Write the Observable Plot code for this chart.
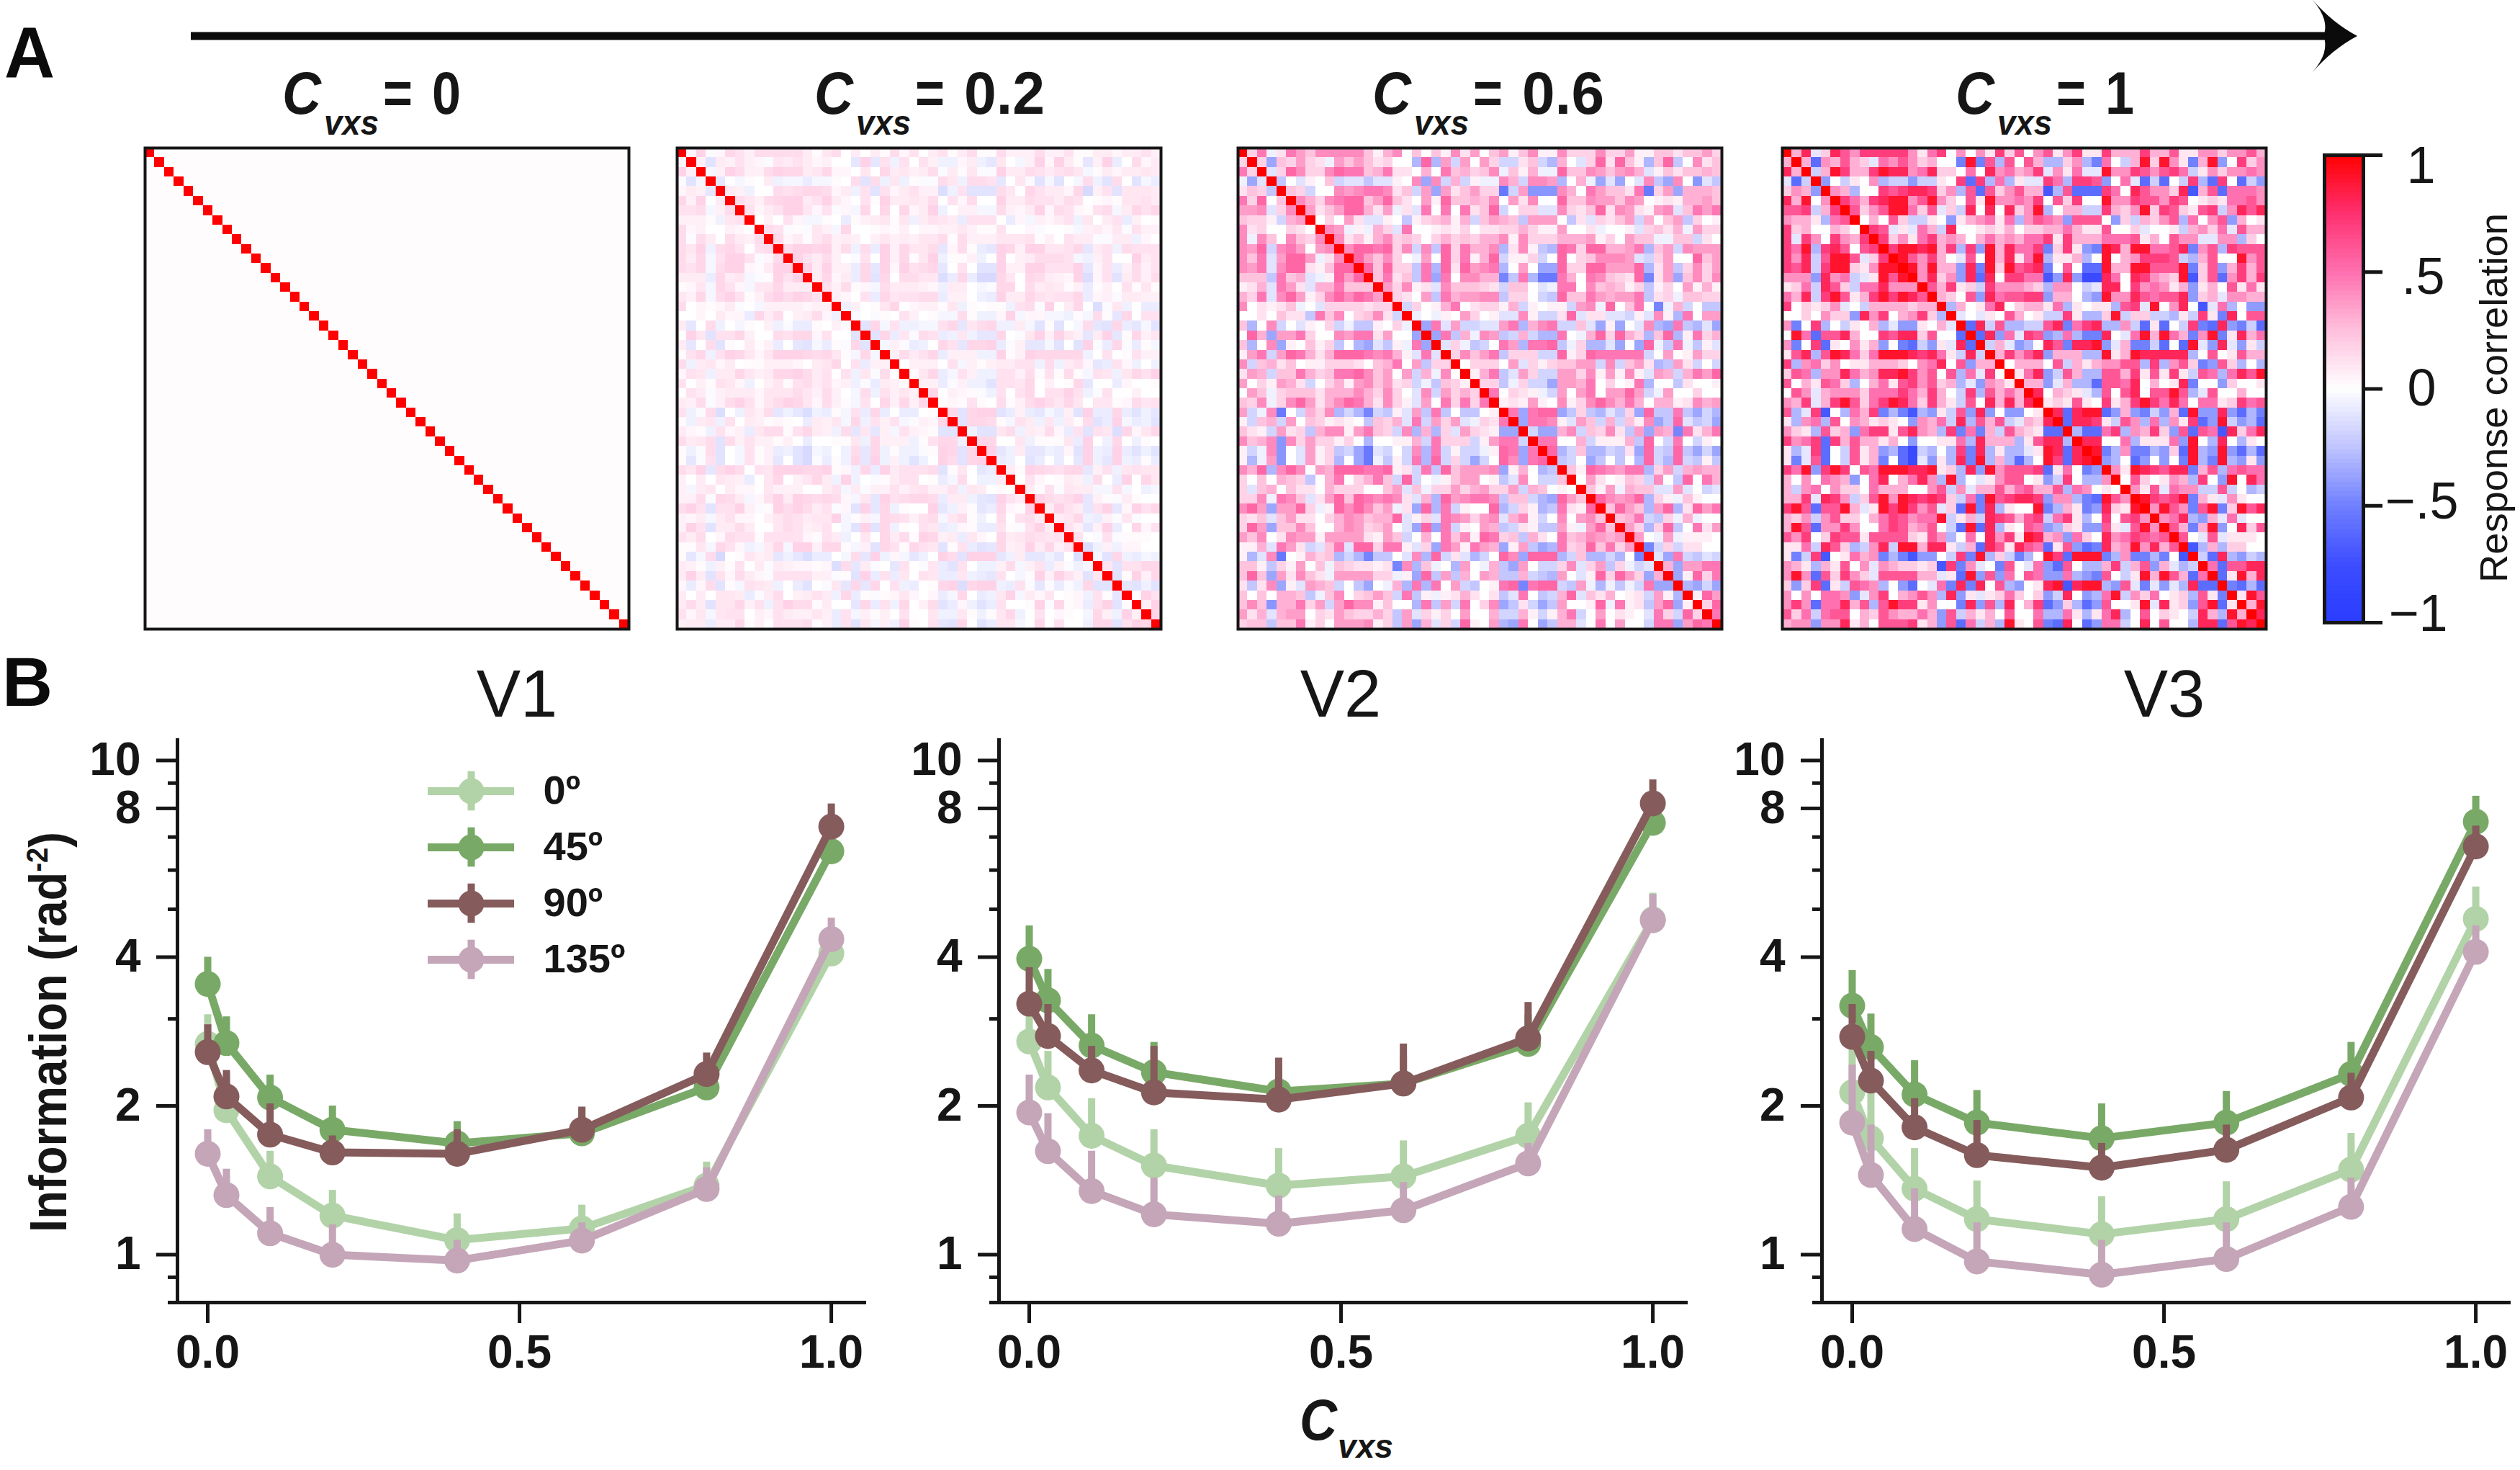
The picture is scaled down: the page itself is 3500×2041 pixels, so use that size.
<!DOCTYPE html>
<html><head><meta charset="utf-8">
<script src="https://cdn.jsdelivr.net/npm/d3@7"></script>
<script src="https://cdn.jsdelivr.net/npm/@observablehq/plot@0.6"></script>
<style>html,body{margin:0;padding:0;background:#fff}#root{position:relative;width:3500px;height:2041px;overflow:hidden;font-family:"Liberation Sans",Arial,sans-serif}#root svg{position:absolute;display:block}</style>
</head><body><div id="root"></div>
<script>
// Panel B: values, one array per area and orientation.
const cvxs=[0,.03,.1,.2,.4,.6,.8,1];
const v1_0=[2.67,1.96,1.44,1.2,1.07,1.13,1.38,4.07], v1_0Top=[3.06,2.31,1.62,1.35,1.21,1.26,1.54,4.46];
const v1_45=[3.53,2.68,2.08,1.79,1.68,1.76,2.18,6.55], v1_45Top=[4.0,3.03,2.31,2.0,1.86,1.97,2.45,7.2];
const v1_90=[2.57,2.09,1.75,1.61,1.6,1.79,2.32,7.35], v1_90Top=[2.92,2.36,2.02,1.74,1.79,1.99,2.56,8.17];
const v1_135=[1.6,1.32,1.105,1.0,.973,1.068,1.358,4.35], v1_135Top=[1.79,1.49,1.246,1.15,1.07,1.16,1.5,4.8];
const v2_0=[2.7,2.18,1.74,1.515,1.38,1.44,1.74,4.77], v2_0Top=[3.06,2.58,2.07,1.79,1.64,1.7,2.03,5.39];
const v2_45=[3.97,3.27,2.65,2.34,2.14,2.22,2.67,7.48], v2_45Top=[4.63,3.78,3.06,2.69,2.39,2.51,3.06,8.53];
const v2_90=[3.22,2.77,2.36,2.13,2.06,2.22,2.74,8.19], v2_90Top=[3.81,3.21,2.64,2.64,2.5,2.67,3.24,9.14];
const v2_135=[1.94,1.62,1.345,1.207,1.155,1.23,1.53,4.75], v2_135Top=[2.31,1.93,1.62,1.43,1.315,1.4,1.68,5.36];
const v3_0=[2.13,1.72,1.36,1.18,1.1,1.18,1.486,4.78], v3_0Top=[2.64,2.12,1.64,1.41,1.31,1.405,1.76,5.55];
const v3_45=[3.19,2.63,2.11,1.85,1.72,1.85,2.32,7.52], v3_45Top=[3.76,3.07,2.47,2.15,2.02,2.14,2.69,8.47];
const v3_90=[2.76,2.25,1.81,1.59,1.5,1.63,2.08,6.7], v3_90Top=[3.21,2.58,2.07,1.87,1.68,1.83,2.33,7.37];
const v3_135=[1.85,1.45,1.127,.969,.911,.98,1.25,4.1], v3_135Top=[2.42,1.83,1.36,1.16,1.07,1.16,1.43,4.63];
const orientations=["0º","45º","90º","135º"];
const seriesColors=["#b2d3a8","#79a967","#855b5b","#c4a6b8"];
const yMajor=[1,2,4,8,10], yMinor=[.8,.9,3,5,6,7,9], xTicks=[0,.5,1];
const barTicks=[-1,-.5,0,.5,1], barLabels=["−1","−.5","0",".5","1"];

// Panel A: upper triangle of each 50×50 matrix as read by eye (diagonal = 1).
// Each char is one cell: digit = +n units, letter a..i = −1..−9 units. Spaces only group columns.
const c0Off=.012;
const c02Unit=.02, c06Unit=.06, c1Unit=.1;
const c1Rows=["38a286477 7774157040 4172604614 7117333733 6114424463","3f43632a 54642300e9 e6c6063cc2 4ce50b3929 41e39d0724","b397337 9884582205 0845347a41 5aa9447646 75b1424454","d0b104 cbbdbb107f 7c5c1aa75c 776d05afbf 0b7cf70fbd","43c00 76788724c6 f624633gc6 fff7508644 28g36f5554","7537 8994694206 1944547062 7009447664 7601215564","624 699526a2b8 0808249c03 3bb7324927 62167b4868","03 062bb10d13 4515c4654d 6660d2b324 6c5046d301","7 6a1a53b800 1213022335 3116002a00 1b3425a633","7241573430 3534355717 3335556130 644aa44c20","7998937c7 d938557e27 1de9839955 68e46c7666","964730a6 0938159c11 3c09034777 6bc3600946","94933d8 e929678e06 0ff9339966 69e26d3736","4824d8 f807755gd8 dhh8508743 29g26f4737","63712 b744432c44 0ba8807454 13d1306151","3206 d856677d33 0cd9448656 68d23a4433","c30 158023315c 1011c67a90 480ga5c0dd","a0 a106301bb7 1cc29b22bb c1b71e8066","f 8b6ccbb68e 578cc4bf1f 0b7ef8debf","f8d5a76dc5 cee80a5939 53e49e1835","b3adc086e 889da3eebf 0f9ad8ad1b","37468d33 3cc9139888 88c0601633","033306b 3134466c7c 462ed62c0c","158db6 3cc6637161 71b65c5869","33da3 ccf6658030 18e00d2001","8032 1ac6068066 96ca600300","121 6107137975 8505512756","8f 899fd3debd 3f9dd8dfce","f 8871b64c5c 417fd9bdcf","cff57c4372 d6f65g8258","88005c111 5d90c80c10","9ec4eecd 2f9cd9dfcf","dc0fd0d 0e9ce9cd1d","419876 88e36c5655","06201 43c70d9085","416a 544bb6b0cb","976 79e31a4100","49 64e69e2968","4 58cd3a5a00","63e39d0826","60a6a1110","gc3c2200","bf8cdbc","5f6688","f1938","efcf","196","39","8"];
const c06Rows=["38a286477 7774157040 4172604614 7117333733 6114424463","3f43632a 64642300e9 e6c6063cc2 4ce50b3929 41e49d0724","b397337 9884582205 0845347a41 5aa9447646 75b1424454","d0b104 cbbdbb107f 7c5c1aa75c 776e05afbf 0b7df70gbd","43c00 76788724c6 f624633ic6 ggg7508644 28i36f5554","7537 8994694206 1944547062 7009447664 7601215564","624 699526a2b8 0808249c03 3bb7324927 62167b4868","03 062bb10d13 4515c4654d 6660d2b324 6c5046d301","7 6a1a53b800 1213022335 3116002a00 1b3425a633","7241573430 3534355717 3335556130 644aa44c20","7998937c7 d938557e27 1de9839955 68e46c7666","964730a6 0938159c11 3c09034777 6bc3600946","94933d8 e929678e06 0ff9339966 69e26d3736","4824d8 f807755hd8 eii8508743 29h26f4737","63712 b744432c44 0ba8807454 13d1306151","3206 d856677d33 0cd9448656 68d23a4433","c30 158023315c 1011c67a90 480ha5c0dd","a0 a106301bb7 1cc29b22bb c1b71e8066","f 8b6ccbb68e 578cc4bf1f 0b7ef8debf","f8d5a76dc5 cee80a5939 53e49e1835","b3adc086e 889da3eebf 0f9ad8ad1b","37468d33 3cc9139888 88c0601633","033306b 3134466c7c 462ed62c0c","158db6 3cc6637161 71b65c5869","33da3 ccf6658030 18e00d2001","8032 1ac6068066 96ca600300","121 6107137975 8505512756","8f 899fd3debd 3f9dd8dfce","f 8871b64c5c 417fd9bdcf","cff57c4372 d6f65h8258","88005c111 5d90c80c10","9ec4eecd 2f9cd9dfcf","dc0fd0d 0e9ce9cd1d","419876 88e36c5655","06201 43c70d9085","416a 544bb6b0cb","976 79e31a4100","49 64e69e2968","4 58cd3a5a00","63e39d0826","60a6a1110","hc3c2200","bf8cdbc","5f6688","f1938","efcf","196","39","8"];
const c02Rows=["29a286377 7774157040 4172604614 7117333733 6114424463","3f43632a 54642300e9 e6c6063cc2 4ce50b3929 41e39d0724","b397337 9884582205 0845347a41 5aa9447646 75b1424454","e0b104 cbbdbb107f 7c5c1aa75c 776e05afbf 0b7cf70fbd","43c00 76788724c6 f624633gc6 fff7508644 28h36f5554","7537 8994694206 1944547062 7009447664 7601215564","624 699526a2b8 0808249c03 3bb7324927 62167b4868","03 062bb10d13 4515c4654d 6660d2b324 6c5046d301","7 6a1a53b800 1213022335 3116002a00 1b3425a633","7241573430 3534355717 3335556130 644aa44c20","7998937c7 d938557e27 1de9839955 68e46c7666","964730a6 0938159c11 3c09034777 6bc3600946","94933d8 e929678e06 0ff9339966 69e26d3736","4824d8 f807755gd8 dhh8508743 29g26f4737","63712 b744432c44 0ba8807454 13d1306151","3206 d856677d33 0cd9448656 68d23a4433","c30 158023315c 1011c67a90 480ga5c0dd","a0 a106301bb7 1cc29b22bb c1b71e8066","f 8b6ccbb68e 578cc4bf1f 0b7ef8debf","f8d5a76dc5 cee80a5939 53e49e1835","b3adc086e 889da3eebf 0f9ad8ad1b","37468d33 3cc9139888 88c0601633","033306b 3134466c7c 462ed62c0c","158db6 3cc6637161 71b65c5869","33da3 ccf6658030 18e00d2001","8032 1ac6068066 96ca600300","121 6107137975 8505512756","8f 899fd3debd 3f9dd8dfce","f 8871b64c5c 417fd9bdcf","cff57c4372 d6f65g8258","88005c111 5d90c80c10","9ec4eecd 2f9cd9dfcf","dc0fd0d 0e9ce9cd1d","419876 88e36c5655","06201 43c70d9085","416a 544bb6b0cb","976 79e31a4100","49 64e69e2968","4 58cd3a5a00","63e39d0826","60a6a1110","gc3c2200","bf8cdbc","5f6688","f1938","efcf","196","39","8"];

const INK="#161616", FONT='"Liberation Sans",Arial,sans-serif';
const colorScale={type:"linear",domain:[-1,-.75,-.5,-.25,0,.25,.5,.75,1],range:["#2a3cff","#3d4dff","#7080ff","#c0c4ff","#ffffff","#ffc0dd","#ff70b0","#ff3070","#ff0000"]};
const root=document.getElementById("root");
function put(svg,left,top){svg.style.left=left+"px";svg.style.top=top+"px";root.appendChild(svg);}
const baseStyle={fontFamily:FONT,overflow:"visible",background:"transparent",color:INK,maxWidth:"none"};

function decode(rows,unit){
  const out=[],n=rows.length+1;
  for(let i=0;i<n;i++){
    out.push({row:i,col:i,v:1});
    const s=i<rows.length?rows[i].replace(/ /g,""):"";
    for(let k=0;k<n-1-i;k++){
      const ch=s[k]??"0"; const l="abcdefghi".indexOf(ch);
      const v=(l>=0?-(l+1):+ch)*unit; const j=i+1+k;
      out.push({row:i,col:j,v},{row:j,col:i,v});
    }
  }
  return out;
}
function flatCells(n,val){const out=[];for(let i=0;i<n;i++)for(let j=0;j<n;j++)out.push({row:i,col:j,v:i===j?1:val});return out;}

function heat(cells,left){
  const idx=d3.range(50);
  put(Plot.plot({width:672,height:668,margin:0,style:baseStyle,
    x:{type:"band",domain:idx,padding:0,round:false,axis:null},y:{type:"band",domain:idx,padding:0,round:false,axis:null},color:colorScale,
    marks:[Plot.cell(cells,{x:"col",y:"row",fill:"v",inset:0,shapeRendering:"crispEdges"}),Plot.frame({stroke:INK,strokeWidth:4})]}),left,205);
}
heat(flatCells(50,c0Off),201);
heat(decode(c02Rows,c02Unit),940);
heat(decode(c06Rows,c06Unit),1719);
heat(decode(c1Rows,c1Unit),2475);

// colour bar
const step=.02, stops=d3.range(-1,1,step);
const barY={domain:[-1,1],range:[664,15],axis:null};
const barLabelMarks=barTicks.map((t,i)=>Plot.text([t],{y:d=>d,text:()=>barLabels[i],frameAnchor:"right",dx:[76,81,81,83,80][i],dy:[-12,-5,0,7,15][i],textAnchor:"middle",fontSize:72,fill:INK}));
put(Plot.plot({width:54,height:680,marginLeft:0,marginRight:0,marginTop:15,marginBottom:16,style:baseStyle,y:barY,color:colorScale,
  marks:[Plot.rect(stops,{y1:d=>d,y2:d=>d+step,fill:d=>d+step/2,shapeRendering:"crispEdges"}),Plot.frame({stroke:INK,strokeWidth:5}),
    Plot.axisY({anchor:"right",ticks:barTicks,tickSize:26,tickFormat:()=>"",strokeWidth:5,stroke:INK}),...barLabelMarks]}),3228,200);

// line panels
function panel(left,means,tops){
  const marks=[];
  means.forEach((m,s)=>{
    const rows=cvxs.map((x,i)=>({x,y:m[i],top:tops[s][i]}));
    marks.push(Plot.ruleX(rows,{x:"x",y1:"y",y2:"top",stroke:seriesColors[s],strokeWidth:10}));
    marks.push(Plot.line(rows,{x:"x",y:"y",stroke:seriesColors[s],strokeWidth:11,strokeLinejoin:"round"}));
    marks.push(Plot.dot(rows,{x:"x",y:"y",r:18,fill:seriesColors[s]}));
  });
  put(Plot.plot({width:1200,height:908,marginLeft:246,marginRight:0,marginTop:27,marginBottom:100,style:baseStyle,
    x:{domain:[-.0485,1.053],axis:null},y:{type:"log",domain:[.8,11],axis:null},
    marks:[...marks,
      Plot.frame({anchor:"left",stroke:INK,strokeWidth:5}),Plot.frame({anchor:"bottom",stroke:INK,strokeWidth:5}),
      Plot.axisY({anchor:"left",ticks:yMinor,tickSize:13,tickFormat:()=>"",strokeWidth:5,stroke:INK}),
      Plot.axisY({anchor:"left",ticks:yMajor,tickSize:29,tickPadding:22,tickFormat:d=>String(d),strokeWidth:5,stroke:INK,fontSize:64,fontWeight:700,fill:INK,label:null}),
      Plot.axisX({anchor:"bottom",ticks:xTicks,tickSize:29,tickPadding:16,tickFormat:d3.format(".1f"),strokeWidth:5,stroke:INK,fontSize:64,fontWeight:700,fill:INK,label:null})
    ]}),left,1000);
}
panel(0,[v1_0,v1_45,v1_90,v1_135],[v1_0Top,v1_45Top,v1_90Top,v1_135Top]);
panel(1141,[v2_0,v2_45,v2_90,v2_135],[v2_0Top,v2_45Top,v2_90Top,v2_135Top]);
panel(2284,[v3_0,v3_45,v3_90,v3_135],[v3_0Top,v3_45Top,v3_90Top,v3_135Top]);

// legend
const legendRows=orientations.map((label,i)=>({label,i,color:seriesColors[i]}));
put(Plot.plot({width:300,height:310,marginLeft:0,marginRight:180,marginTop:38,marginBottom:38,style:baseStyle,
  x:{domain:[0,1],axis:null},y:{domain:[3,0],axis:null},
  marks:[Plot.ruleY(legendRows,{y:"i",x1:()=>0,x2:()=>1,stroke:"color",strokeWidth:11}),
    Plot.ruleX(legendRows,{x:()=>.5,y1:d=>d.i-.35,y2:d=>d.i+.35,stroke:"color",strokeWidth:10}),
    Plot.dot(legendRows,{x:()=>.5,y:"i",r:18,fill:"color"}),
    Plot.text(legendRows,{x:()=>1,y:"i",text:"label",dx:40,textAnchor:"start",fontSize:56,fontWeight:700,fill:INK})]}),594,1060);

// annotation layer: arrow, panel letters, titles
function cTitle(x,val,valX,valW,eqX){return `<g font-weight="700" fill="${INK}">
<text x="${x}" y="158" font-size="84" font-style="italic" textLength="54" lengthAdjust="spacingAndGlyphs">C</text>
<text x="${x+58}" y="187" font-size="48" font-style="italic" textLength="76" lengthAdjust="spacingAndGlyphs">vxs</text>
<text x="${eqX}" y="158" font-size="84" textLength="41" lengthAdjust="spacingAndGlyphs">=</text>
<text x="${valX}" y="158" font-size="84" textLength="${valW}" lengthAdjust="spacingAndGlyphs">${val}</text></g>`;}
const ann=document.createElementNS("http://www.w3.org/2000/svg","svg");
ann.setAttribute("width",3500);ann.setAttribute("height",2041);ann.style.left="0";ann.style.top="0";ann.setAttribute("font-family",FONT);
ann.innerHTML=`
<rect x="265" y="44.5" width="2965" height="11" fill="#0b0b0b"/>
<path d="M3212 0Q3240 32 3274 50Q3240 68 3212 100Q3236 72 3227 50Q3236 28 3212 0Z" fill="#0b0b0b"/>
<text x="6" y="108" font-size="100" font-weight="700" fill="#0b0b0b" textLength="70" lengthAdjust="spacingAndGlyphs">A</text>
<text x="3" y="980" font-size="97" font-weight="700" fill="#0b0b0b">B</text>
${cTitle(392,"0",600,40,532)}${cTitle(1131,"0.2",1339,112,1271)}${cTitle(1906,"0.6",2114,114,2046)}${cTitle(2716,"1",2924,40,2856)}
<text x="718" y="995" font-size="92" text-anchor="middle" fill="${INK}">V1</text>
<text x="1862" y="995" font-size="92" text-anchor="middle" fill="${INK}">V2</text>
<text x="3006" y="995" font-size="92" text-anchor="middle" fill="${INK}">V3</text>
<g font-weight="700" fill="${INK}" font-style="italic"><text x="1805" y="1999" font-size="80" textLength="52" lengthAdjust="spacingAndGlyphs">C</text>
<text x="1858" y="2024" font-size="46" textLength="77" lengthAdjust="spacingAndGlyphs">vxs</text></g>
<text transform="translate(92,1711) rotate(-90)" font-size="72" font-weight="700" fill="${INK}" textLength="556" lengthAdjust="spacingAndGlyphs">Information (rad<tspan dy="-26" font-size="42">-2</tspan><tspan dy="26">)</tspan></text>
<text transform="translate(3482,809) rotate(-90)" font-size="54" fill="${INK}" textLength="513" lengthAdjust="spacingAndGlyphs">Response correlation</text>`;
root.appendChild(ann);
</script></body></html>
